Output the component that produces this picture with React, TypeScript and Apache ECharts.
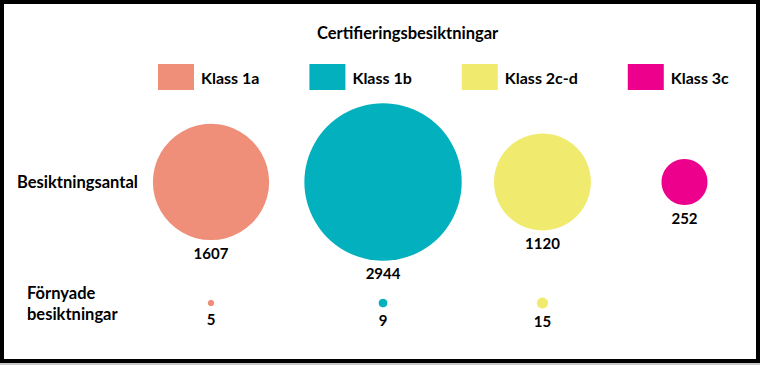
import React, { useEffect, useRef } from "react";
import * as echarts from "echarts";

const classes = ["Klass 1a", "Klass 1b", "Klass 2c-d", "Klass 3c"];
const colors = ["#EF8F7A", "#02B1BD", "#F0EB6F", "#EC008C"];
const rows = ["Besiktningsantal", "Förnyade\nbesiktningar"];
const classX = [1, 2.09, 3.1, 4];
const besiktningsantal = [1607, 2944, 1120, 252];
const fornyade: (number | null)[] = [5, 9, 15, null];
const titleText = "Certifieringsbesiktningar";

const FONT = "Lato, 'Open Sans', sans-serif";

export default function App() {
  const ref = useRef<HTMLDivElement>(null);
  useEffect(() => {
    document.body.style.margin = "0";
    if (!ref.current) return;
    const chart = echarts.init(ref.current, null, { renderer: "svg" });
    const series = classes.map((name, i) => {
      const data: any[] = [[classX[i], rows[0], besiktningsantal[i]]];
      if (fornyade[i] != null) data.push([classX[i], rows[1], fornyade[i]]);
      return {
        name,
        type: "scatter",
        data,
        symbol: "circle",
        symbolSize: (d: number[]) => 2.9 * Math.sqrt(d[2]),
        itemStyle: { color: colors[i], opacity: 1 },
        label: {
          show: true,
          position: "bottom",
          distance: 5,
          formatter: (p: any) => String(p.value[2]),
          color: "#000",
          fontWeight: "bold",
          fontSize: 15,
          fontFamily: FONT,
        },
        emphasis: { disabled: true },
      };
    });
    const labelStyle = {
      color: "#000",
      fontWeight: "bold" as const,
      fontSize: 16.5,
      lineHeight: 21,
      fontFamily: FONT,
      align: "left" as const,
    };
    chart.setOption({
      animation: false,
      backgroundColor: "#fff",
      textStyle: { fontFamily: FONT },
      title: {
        text: titleText,
        left: 312,
        top: 19,
        textStyle: { fontSize: 16.5, fontWeight: "bold", color: "#000", fontFamily: FONT },
      },
      legend: {
        data: classes,
        left: 158,
        top: 64,
        padding: 0,
        icon: "rect",
        itemWidth: 36,
        itemHeight: 26,
        itemGap: 50,
        selectedMode: false,
        textStyle: { fontSize: 16, fontWeight: "bold", color: "#000", fontFamily: FONT, padding: [0, 0, 0, 2] },
      },
      grid: {
        left: 211,
        right: 75.5,
        top: 182,
        bottom: 62,
        containLabel: false,
        outerBoundsMode: "none",
      },
      xAxis: {
        type: "value",
        min: 1,
        max: 4,
        show: false,
      },
      yAxis: {
        type: "category",
        data: rows,
        inverse: true,
        boundaryGap: false,
        axisLine: { show: false },
        axisTick: { show: false },
        splitLine: { show: false },
        axisLabel: {
          align: "left",
          margin: 194,
          color: "#000",
          fontWeight: "bold",
          fontSize: 16.5,
          lineHeight: 21,
          fontFamily: FONT,
          formatter: (v: string) =>
            v === rows[0]
              ? `{a|${v}}`
              : v
                  .split("\n")
                  .map((l) => `{b|${l}}`)
                  .join("\n"),
          rich: {
            a: { ...labelStyle },
            b: { ...labelStyle, padding: [0, 0, 0, 10] },
          },
        },
      },
      graphic: [
        {
          type: "rect",
          shape: { x: 2, y: 2, width: 756, height: 359 },
          style: { fill: "none", stroke: "#000", lineWidth: 4 },
          z: 100,
        },
        {
          type: "rect",
          shape: { x: 0, y: 363, width: 760, height: 2 },
          style: { fill: "#c8c8c8" },
          z: 100,
        },
      ],
      series,
    });
    return () => chart.dispose();
  }, []);
  return <div ref={ref} style={{ width: 760, height: 365 }} />;
}
